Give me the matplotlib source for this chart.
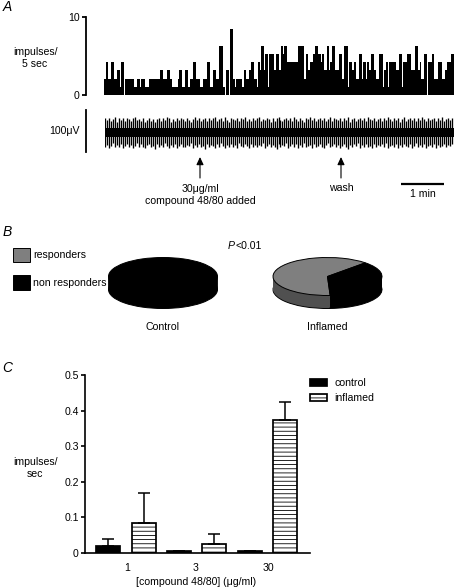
import numpy as np
import matplotlib
matplotlib.use('Agg')
import matplotlib.pyplot as plt

plt.rcParams['font.family'] = ['Liberation Sans', 'DejaVu Sans']
plt.rcParams['font.size'] = 7.6
plt.rcParams['hatch.linewidth'] = 0.6

W, H = 454, 588

# panel A - histogram, levels and how many pixels wide each run is
hist_levels = [2,4,2,4,2,3,1,4,0,2,1,2,1,2,1,2,3,2,3,2,1,2,3,1,3,1,2,4,2,1,2,4,1,3,2,6,1,0,3,0,8,2,1,2,1,3,2,3,4,2,1,4,3,6,3,5,1,5,3,5,3,6,5,6,4,6,2,5,3,4,5,6,5,4,5,3,6,3,4,6,3,5,2,6,1,
               4,3,4,2,5,2,4,2,4,3,5,3,2,5,1,3,4,1,4,3,5,1,4,5,3,6,3,4,2,5,0,4,5,2,4,2,3,4,5]
hist_runs = [2,2,3,3,3,3,1,3,1,9,3,3,1,4,4,11,3,4,3,2,6,1,3,3,3,2,3,3,4,3,4,3,3,3,3,4,2,1,3,1,3,2,1,6,2,2,3,2,3,3,1,2,1,3,1,3,1,5,2,3,2,2,1,3,11,6,2,2,2,3,2,3,3,1,2,3,2,1,2,3,4,3,2,4,1,
             3,2,2,3,3,1,3,1,2,2,3,2,3,4,1,2,2,1,7,3,3,1,4,4,4,3,2,1,3,3,1,4,2,4,4,3,2,4,4]
hist_unit = 1.05  # one impulse on the 0-10 scale as drawn

# panel A - extracellular trace, spike sizes in uV
trace_up = [30,26,31,24,29,33,22,30,27,32,25,31,28,23,30,33,26,29,24,31,
            22,27,30,25,29,21,28,32,24,30,26,33,31,22,28,25,30,27,32,29,
            24,31,26,22,29,33,27,30,25,28,32,23,30,26,31,34,24,28,30,25,
            33,27,22,31,29,26,32,24,30,28,34,25,29,23,31,27,30,33,24,28,
            26,32,29,22,31,25,30,34,27,23,29,32,26,30,24,33,28,25,31,27,
            22,30,29,33,26,31,24,28,32,27,30,23,29,34,25,31,28,26,32,24,
            30,27,33,22,29,31,25,28,32,26,30,24,33,29,27,31,23,28,30,25,
            32,26,34,29,24,31,27,30,22,28,33,25,29,31,26,32,24,30,27,33,
            28,23,31,26,29,32,25,30,27,33,24,28,31,26,30]
trace_down = [38,33,40,35,29,39,34,37,31,40,36,30,38,33,41,35,28,39,32,37,
              40,34,30,38,35,43,31,37,33,39,29,36,40,34,38,32,41,35,30,37,
              39,33,36,28,40,34,38,31,37,35,42,30,39,33,36,40,32,38,29,35,
              41,34,37,31,39,33,40,28,36,38,32,35,41,30,37,34,39,33,36,29,
              40,35,31,38,34,37,42,30,39,33,36,28,40,35,32,38,31,41,34,37,
              29,39,36,33,40,30,38,35,32,37,41,34,28,39,36,31,38,33,40,35,
              30,37,42,34,39,32,36,29,40,33,38,31,37,35,41,30,39,34,36,32,
              38,28,40,35,33,37,31,41,34,39,30,36,38,32,40,35,29,37,33,39,
              31,41,36,34,38,30,40,33,37,35,32,39,34,36,31]
trace_core_up = 7
trace_core_down = 14

# panel B
pie_values_control = [0, 100]
pie_values_inflamed = [63, 37]
pie_colors = ['#7f7f7f', 'black']
pie_wall_colors = ['#505050', 'black']

# panel C
doses = ['1', '3', '30']
control_vals = [0.02, 0.007, 0.007]
control_err = [0.02, 0, 0]
inflamed_vals = [0.085, 0.025, 0.375]
inflamed_err = [0.083, 0.027, 0.05]
y_ticks_c = [0, 0.1, 0.2, 0.3, 0.4, 0.5]
y_labels_c = ['0', '0.1', '0.2', '0.3', '0.4', '0.5']


def px_axes(l, t, r, b):
    return fig.add_axes([l / W, 1 - b / H, (r - l) / W, (b - t) / H])


fig = plt.figure(figsize=(W / 100, H / 100), dpi=100)

# overlay in pixel coordinates for labels and arrows
ov = fig.add_axes([0, 0, 1, 1], zorder=5)
ov.set_xlim(0, W)
ov.set_ylim(H, 0)
ov.axis('off')
ov.patch.set_alpha(0)

# ---- A: histogram
ax = px_axes(104, 17, 454, 95)
vals = np.repeat(np.array(hist_levels) * hist_unit, hist_runs)
ax.bar(np.arange(len(vals)), vals, width=1.0, align='edge', color='black', linewidth=0)
ax.set_xlim(0, 350)
ax.set_ylim(0, 10)
ax.set_yticks([0, 10])
ax.set_xticks([])
for s in ['top', 'right', 'bottom']:
    ax.spines[s].set_visible(False)
ax.spines['left'].set_position(('outward', 13))
ax.spines['left'].set_linewidth(1.3)
ax.tick_params(axis='y', length=3, width=1.3, pad=1.5, labelsize=7.6)

# ---- A: trace
ax = px_axes(105, 110, 454, 152)
xs = np.arange(len(trace_up))
ax.vlines(xs, -np.array(trace_down), trace_up, color='black', linewidth=0.95)
ax.fill_between([0, len(trace_up)], -trace_core_down, trace_core_up, color='black', linewidth=0)
ax.set_xlim(0, 175)
ax.set_ylim(-50, 50)
ax.set_xticks([])
ax.set_yticks([])
for s in ['top', 'right', 'bottom']:
    ax.spines[s].set_visible(False)
ax.spines['left'].set_position(('outward', 14))
ax.spines['left'].set_linewidth(1.3)

ov.text(7, 7, 'A', fontsize=10, style='italic', ha='center', va='center')
ov.text(35, 58, 'impulses/\n5 sec', ha='center', va='center', linespacing=1.25)
ov.text(64, 131, '100μV', ha='center', va='center')
for xa in [200, 341]:
    ov.annotate('', xy=(xa, 157), xytext=(xa, 178),
                arrowprops=dict(arrowstyle='-|>,head_length=0.6,head_width=0.28', color='black',
                                linewidth=0.8, shrinkA=0, shrinkB=0))
ov.text(200, 195, '30μg/ml\ncompound 48/80 added', ha='center', va='center', linespacing=1.2)
ov.text(341, 188, 'wash', ha='center', va='center')
ov.plot([401, 444], [184, 184], color='black', linewidth=1.6, solid_capstyle='butt')
ov.text(423, 194, '1 min', ha='center', va='center')

# ---- B: pies
def pie_3d(cx, values):
    a, b, depth = 54.5, 19.0, 13 / 19
    cy = 276.5
    ax = px_axes(cx - 1.25 * a, cy - 1.25 * b, cx + 1.25 * a, cy + 2.2 * b)
    offsets = np.linspace(depth, 0, 16)
    for i, d in enumerate(offsets):
        top = i == len(offsets) - 1
        ax.pie(values, colors=pie_colors if top else pie_wall_colors, startangle=46,
               center=(0, -d), radius=1, counterclock=True,
               wedgeprops=dict(linewidth=0.7 if top or i == 0 else 0,
                               edgecolor='black' if top or i == 0 else 'none'))
    ax.set_aspect('auto')
    ax.set_xlim(-1.25, 1.25)
    ax.set_ylim(-2.2, 1.25)
    ax.patch.set_alpha(0)


pie_3d(163, pie_values_control)
pie_3d(327.5, pie_values_inflamed)

ov.text(7, 232, 'B', fontsize=10, style='italic', ha='center', va='center')
ov.add_patch(plt.Rectangle((13, 248), 17, 14, facecolor='#7f7f7f', edgecolor='black', linewidth=0.7))
ov.add_patch(plt.Rectangle((13, 275), 17, 15, facecolor='black', edgecolor='black', linewidth=0.7))
ov.text(33, 255, 'responders', ha='left', va='center')
ov.text(33, 283, 'non responders', ha='left', va='center')
ov.text(228, 246, 'P', style='italic', ha='left', va='center')
ov.text(235, 246, '<0.01', ha='left', va='center')
ov.text(162, 327, 'Control', ha='center', va='center')
ov.text(327, 327, 'Inflamed', ha='center', va='center')

# ---- C: bars
ax = px_axes(85, 375, 310, 553)
x = np.arange(len(doses))
bw = 0.34
off = 0.25
err_kw = dict(ecolor='black', elinewidth=1.1, capsize=4.5, capthick=1.1)
h1 = ax.bar(x - off, control_vals, bw, color='black', edgecolor='black', linewidth=1.25,
            yerr=[np.zeros(3), control_err], error_kw=err_kw, label='control')
h2 = ax.bar(x + off, inflamed_vals, bw, color='white', edgecolor='black', linewidth=1.25, hatch='----',
            yerr=[np.zeros(3), inflamed_err], error_kw=err_kw, label='inflamed')
ax.set_xlim(-0.58, 2.606)
ax.set_ylim(0, 0.5)
ax.set_yticks(y_ticks_c)
ax.set_yticklabels(y_labels_c)
ax.set_xticks(x + np.array([0.01, -0.01, 0.02]))
ax.set_xticklabels(doses)
for s in ['top', 'right']:
    ax.spines[s].set_visible(False)
for s in ['left', 'bottom']:
    ax.spines[s].set_linewidth(1.2)
ax.tick_params(axis='y', length=3, width=1.2, pad=1.5, labelsize=7.6)
ax.tick_params(axis='x', length=0, pad=7, labelsize=7.6)
leg = ax.legend(handles=[h1, h2], loc='upper left', bbox_to_anchor=(307 / W, 1 - 375 / H),
                bbox_transform=fig.transFigure, frameon=False, fontsize=7.6,
                handlelength=1.6, handleheight=0.6, handletextpad=0.7, labelspacing=0.5,
                borderpad=0.3, borderaxespad=0)

ov.text(7, 368, 'C', fontsize=10, style='italic', ha='center', va='center')
ov.text(35, 468, 'impulses/\nsec', ha='center', va='center', linespacing=1.25)
ov.text(196, 582, '[compound 48/80] (μg/ml)', ha='center', va='center')

fig.savefig('out.png', dpi=100)
